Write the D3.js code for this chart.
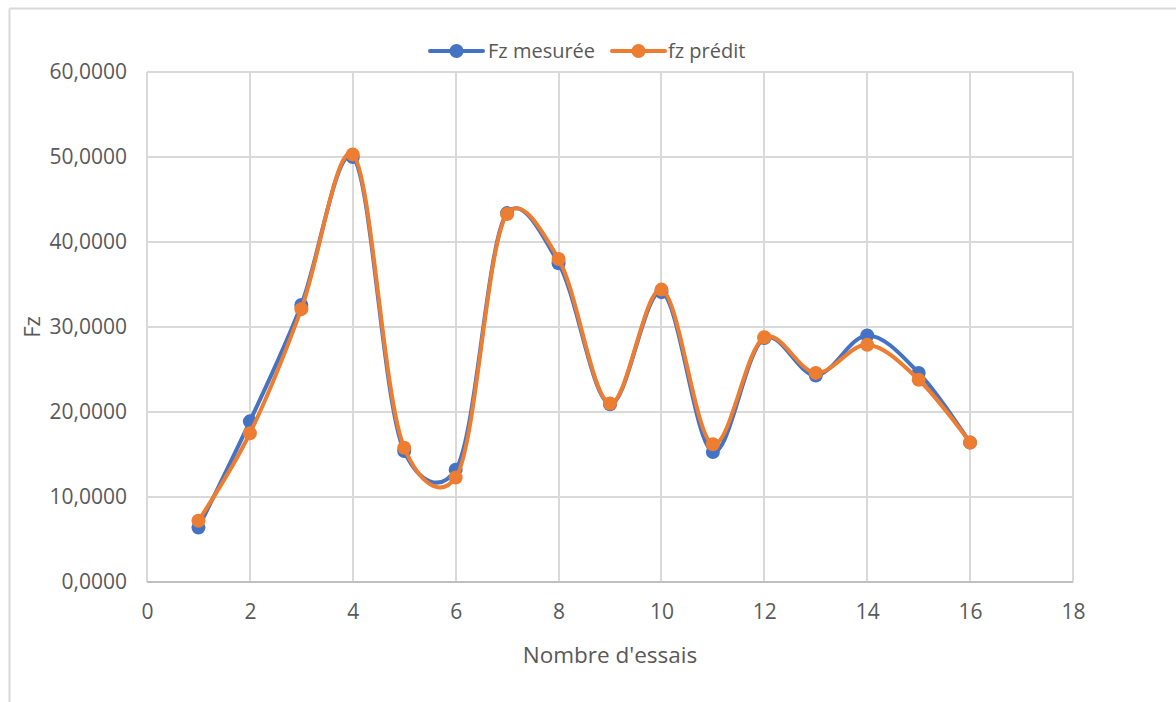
<!DOCTYPE html>
<html>
<head>
<meta charset="utf-8">
<script src="https://cdn.jsdelivr.net/npm/d3@7"></script>
<style>
  html, body { margin: 0; padding: 0; background: #fff; }
  svg { display: block; }
  text { font-family: "Open Sans", "Noto Sans", sans-serif; fill: #595959; }
</style>
</head>
<body>
<svg id="chart" width="1176" height="702"></svg>
<script>
// Trial numbers and measured / predicted Fz values
const essais = [1, 2, 3, 4, 5, 6, 7, 8, 9, 10, 11, 12, 13, 14, 15, 16];
const fzMesuree = [6.4, 18.9, 32.6, 50.0, 15.4, 13.2, 43.4, 37.5, 20.9, 34.1, 15.3, 28.7, 24.3, 29.0, 24.6, 16.4];
const fzPredit  = [7.2, 17.5, 32.1, 50.3, 15.8, 12.3, 43.3, 38.0, 21.0, 34.4, 16.2, 28.8, 24.6, 27.9, 23.8, 16.4];
const xTicks = [0, 2, 4, 6, 8, 10, 12, 14, 16, 18];
const yTicks = [0, 10, 20, 30, 40, 50, 60];
const seriesNames = ["Fz mesurée", "fz prédit"];
const seriesColors = ["#4472c4", "#ed7d31"];

const svg = d3.select("#chart");
const plot = { left: 147, right: 1073, top: 72, bottom: 582 };

// Chart area frame (top and left edges visible)
svg.append("line").attr("x1", 9.5).attr("x2", 1176).attr("y1", 8.5).attr("y2", 8.5)
  .attr("stroke", "#d9d9d9").attr("stroke-width", 2);
svg.append("line").attr("x1", 9.5).attr("x2", 9.5).attr("y1", 8.5).attr("y2", 702)
  .attr("stroke", "#d9d9d9").attr("stroke-width", 2);

const x = d3.scaleLinear().domain([0, 18]).range([plot.left, plot.right]);
const y = d3.scaleLinear().domain([0, 60]).range([plot.bottom, plot.top]);
const fmt = v => d3.format(".4f")(v).replace(".", ",");

// Gridlines
const grid = svg.append("g").attr("stroke", "#d9d9d9").attr("stroke-width", 2);
yTicks.forEach(t => grid.append("line")
  .attr("x1", plot.left).attr("x2", plot.right)
  .attr("y1", Math.round(y(t))).attr("y2", Math.round(y(t))));
xTicks.forEach(t => grid.append("line")
  .attr("x1", Math.round(x(t))).attr("x2", Math.round(x(t)))
  .attr("y1", plot.top).attr("y2", plot.bottom));

// Bottom axis line
svg.append("line").attr("x1", plot.left).attr("x2", plot.right)
  .attr("y1", plot.bottom).attr("y2", plot.bottom)
  .attr("stroke", "#bfbfbf").attr("stroke-width", 2);

// Axes built with d3 axis generators, then styled
const yAxis = svg.append("g").attr("transform", `translate(${plot.left},0)`)
  .call(d3.axisLeft(y).tickValues(yTicks).tickFormat(fmt).tickSize(0).tickPadding(20));
const xAxis = svg.append("g").attr("transform", `translate(0,${plot.bottom})`)
  .call(d3.axisBottom(x).tickValues(xTicks).tickSize(0).tickPadding(22));
[yAxis, xAxis].forEach(a => {
  a.select(".domain").remove();
  a.selectAll("text").attr("font-size", 21).attr("fill", "#595959")
    .style("font-family", '"Open Sans", sans-serif');
});

// Axis titles
svg.append("text").attr("x", 610).attr("y", 663).attr("text-anchor", "middle")
  .attr("font-size", 22.5).text("Nombre d'essais");
svg.append("text").attr("transform", "translate(40,327) rotate(-90)")
  .attr("text-anchor", "middle").attr("font-size", 22).text("Fz");

// Smoothed series lines with markers
const line = d3.line().x(d => x(d[0])).y(d => y(d[1])).curve(d3.curveCatmullRom.alpha(0.2));
[fzMesuree, fzPredit].forEach((vals, i) => {
  const pts = essais.map((e, j) => [e, vals[j]]);
  const g = svg.append("g");
  g.append("path").datum(pts).attr("d", line)
    .attr("fill", "none").attr("stroke", seriesColors[i]).attr("stroke-width", 4)
    .attr("stroke-linejoin", "round").attr("stroke-linecap", "round");
  g.selectAll("circle").data(pts).join("circle")
    .attr("cx", d => x(d[0])).attr("cy", d => y(d[1])).attr("r", 7)
    .attr("fill", seriesColors[i]);
});

// Legend
const legendItems = [{ lx: 430, tx: 488 }, { lx: 612, tx: 668 }];
legendItems.forEach((it, i) => {
  const g = svg.append("g");
  g.append("line").attr("x1", it.lx).attr("x2", it.lx + 53).attr("y1", 51).attr("y2", 51)
    .attr("stroke", seriesColors[i]).attr("stroke-width", 4).attr("stroke-linecap", "round");
  g.append("circle").attr("cx", it.lx + 26.5).attr("cy", 51).attr("r", 7).attr("fill", seriesColors[i]);
  g.append("text").attr("x", it.tx).attr("y", 58).attr("font-size", 20).text(seriesNames[i]);
});
</script>
</body>
</html>
